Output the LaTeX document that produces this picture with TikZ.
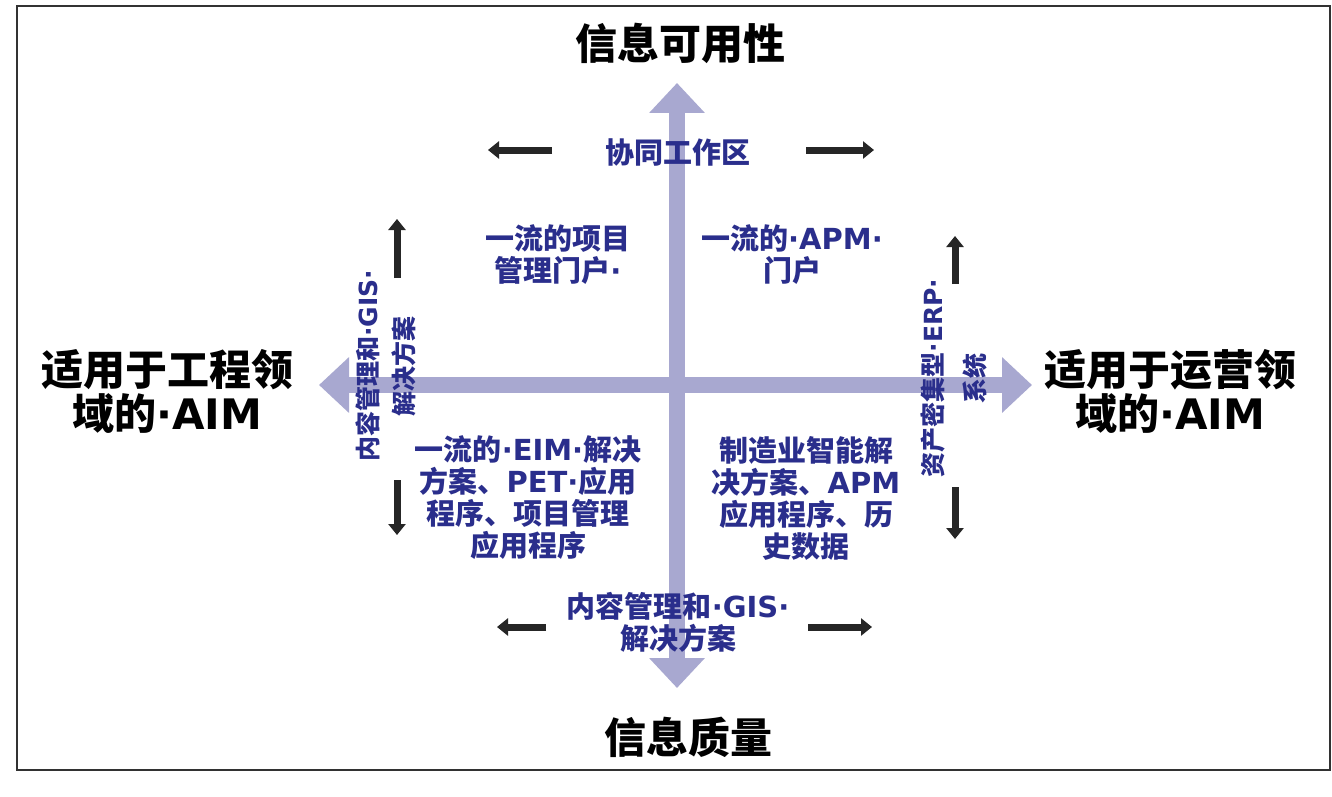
\documentclass[tikz,border=0pt]{standalone}
\usepackage{fontspec}
\setmainfont{Noto Sans CJK SC}
\newfontfamily\lat{DejaVu Sans}
\newcommand\mdot{{\lat\textperiodcentered}}
\newcommand\lt[1]{{\lat #1}}
\usetikzlibrary{arrows.meta}
\definecolor{axisc}{RGB}{168,168,208}
\definecolor{txtblue}{RGB}{42,46,140}
\definecolor{framec}{RGB}{50,50,50}
\tikzset{
  biglabel/.style={font=\fontsize{42}{44}\selectfont\bfseries, align=center, text=black, inner sep=0pt},
  bluelabel/.style={font=\fontsize{29}{32}\selectfont\bfseries, align=center, text=txtblue, inner sep=0pt},
  sidelabel/.style={bluelabel, font=\fontsize{25}{30}\selectfont\bfseries, rotate=90},
  axisarrow/.style={draw=axisc, line width=16pt, {Triangle[width=54pt,length=30pt]}-{Triangle[width=54pt,length=30pt]}},
  dirarrow/.style={draw=black!85, line width=7pt, -{Triangle[width=17pt,length=11pt]}},
}
\begin{document}
\begin{tikzpicture}[x=1pt,y=-1pt]
\useasboundingbox (0,0) rectangle (1332,797);
\fill[white] (0,0) rectangle (1332,797);
\draw[framec, line width=2pt] (17,6) rectangle (1330,770);

% axes
\coordinate (ytop) at (677,83);
\coordinate (ybot) at (677,688);
\coordinate (xl) at (319,385);
\coordinate (xr) at (1032,385);
\draw[axisarrow] (ybot) -- (ytop);
\draw[axisarrow] (xl) -- (xr);

% axis titles
\node[biglabel] (tt) at (680,43) {信息可用性};
\node[biglabel] (tb) at (688,737) {信息质量};
\node[biglabel] (tl) at (167,391) {适用于工程领\\域的\mdot{}\lt{AIM}};
\node[biglabel] (tr) at (1170,391) {适用于运营领\\域的\mdot{}\lt{AIM}};

% quadrant and edge labels
\node[bluelabel] (collab) at (678,152) {协同工作区};
\node[bluelabel] (q1) at (558,255) {一流的项目\\管理门户\mdot{}};
\node[bluelabel] (q2) at (792,255) {一流的\mdot{}\lt{APM}\mdot{}\\门户};
\node[bluelabel] (q3) at (528,498) {一流的\mdot{}\lt{EIM}\mdot{}解决\\方案、\lt{PET}\mdot{}应用\\程序、项目管理\\应用程序};
\node[bluelabel] (q4) at (806,498) {制造业智能解\\决方案、\lt{APM}\\应用程序、历\\史数据};
\node[bluelabel] (cm) at (678,622) {内容管理和\mdot{}\lt{GIS}\mdot{}\\解决方案};
\node[sidelabel] (lcm) at (386,366) {内容管理和\mdot{}\lt{GIS}\mdot{}\\[6pt]解决方案};
\node[sidelabel] (erp) at (954,378) {资产密集型\mdot{}\lt{ERP}\mdot{}\\[12pt]系统};

% direction arrows
\coordinate (a1s) at (552,150); \coordinate (a1e) at (488,150);
\coordinate (a2s) at (806,150); \coordinate (a2e) at (874,150);
\coordinate (a3s) at (546,627); \coordinate (a3e) at (497,627);
\coordinate (a4s) at (808,627); \coordinate (a4e) at (872,627);
\coordinate (a5s) at (397,278); \coordinate (a5e) at (397,219);
\coordinate (a6s) at (397,480); \coordinate (a6e) at (397,535);
\coordinate (a7s) at (955,284); \coordinate (a7e) at (955,236);
\coordinate (a8s) at (955,487); \coordinate (a8e) at (955,539);
\foreach \s/\e in {a1s/a1e,a2s/a2e,a3s/a3e,a4s/a4e,a5s/a5e,a6s/a6e,a7s/a7e,a8s/a8e}
  \draw[dirarrow] (\s) -- (\e);
\end{tikzpicture}
\end{document}
